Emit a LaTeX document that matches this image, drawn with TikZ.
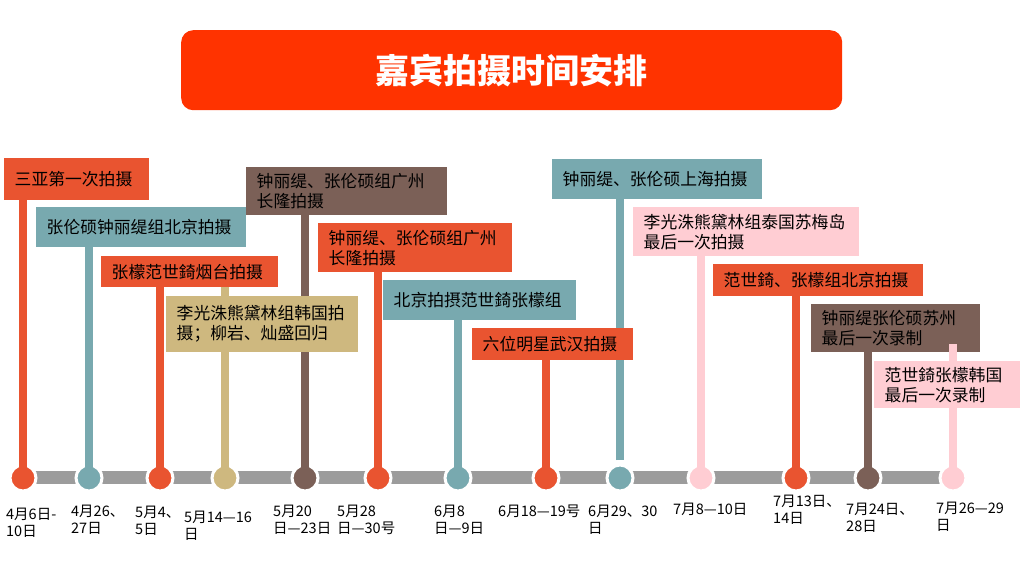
\documentclass[tikz,border=0pt]{standalone}
\usepackage{fontspec}
\setmainfont{Noto Sans CJK SC}
\definecolor{cred}{HTML}{E95430}
\definecolor{cteal}{HTML}{78A9AF}
\definecolor{cbrown}{HTML}{7B6057}
\definecolor{ctan}{HTML}{CEB87F}
\definecolor{cpink}{HTML}{FFCDD3}
\definecolor{ctitle}{HTML}{FF3300}
\definecolor{cbar}{HTML}{9C9C9C}
\begin{document}
\begin{tikzpicture}[x=1pt,y=-1pt,
  box/.style={anchor=north west, inner xsep=10.5pt, inner ysep=0pt, align=left, text=black,
              font=\fontsize{16.8}{20}\selectfont},
  dot/.style={circle, draw=white, line width=3pt, minimum size=26pt, inner sep=0pt},
  stem/.style={line width=8pt},
  bar/.style={line width=13pt, draw=cbar},
  date/.style={anchor=north west, inner sep=0pt, align=left, text=black,
               font=\fontsize{14.5}{16.5}\selectfont}
]
\useasboundingbox (0,0) rectangle (1024,576);
\fill[white] (0,0) rectangle (1024,576);

% title
\node[anchor=north west, fill=ctitle, rounded corners=12pt, minimum width=661pt, minimum height=80pt,
      inner sep=0pt, text=white, font=\bfseries\fontsize{34}{38}\selectfont] (title) at (181,30) {嘉宾拍摄时间安排};

% timeline bar
\coordinate (barL) at (23,477);
\coordinate (barR) at (953,477);
\draw[bar] (barL) -- (barR);

% circles
\node[dot, fill=cred]   (c1)  at (23,478)  {};
\node[dot, fill=cteal]  (c2)  at (89,478)  {};
\node[dot, fill=cred]   (c3)  at (160,478) {};
\node[dot, fill=ctan]   (c4)  at (225,478) {};
\node[dot, fill=cbrown] (c5)  at (305,478) {};
\node[dot, fill=cred]   (c6)  at (378,478) {};
\node[dot, fill=cteal]  (c7)  at (458,478) {};
\node[dot, fill=cred]   (c8)  at (546,478) {};
\node[dot, fill=cteal]  (c9)  at (620,478) {};
\node[dot, fill=cpink]  (c10) at (701,478) {};
\node[dot, fill=cred]   (c11) at (796,478) {};
\node[dot, fill=cbrown] (c12) at (868,478) {};
\node[dot, fill=cpink]  (c13) at (953,478) {};

% stem tops
\coordinate (t1)  at (23,179);
\coordinate (t2)  at (89,227);
\coordinate (t3)  at (160,272);
\coordinate (t4)  at (225,287);
\coordinate (t5)  at (305,191);
\coordinate (t6)  at (378,248);
\coordinate (t7)  at (458,300);
\coordinate (t8)  at (546,344);
\coordinate (t9)  at (620,179);
\coordinate (t10) at (701,231);
\coordinate (t11) at (796,280);
\coordinate (t12) at (868,328);
\coordinate (t13) at (953,344);

% stems
\draw[stem, cred]   (c1.center)  -- (t1);
\draw[stem, cteal]  (c2.center)  -- (t2);
\draw[stem, cred]   (c3.center)  -- (t3);
\draw[stem, ctan]   (c4.center)  -- (t4);
\draw[stem, cbrown] (c5.center)  -- (t5);
\draw[stem, cred]   (c6.center)  -- (t6);
\draw[stem, cteal]  (c7.center)  -- (t7);
\draw[stem, cred]   (c8.center)  -- (t8);
\draw[stem, cteal, shorten <=18pt] (c9.center) -- (t9);
\draw[stem, cpink]  (c10.center) -- (t10);
\draw[stem, cred]   (c11.center) -- (t11);
\draw[stem, cbrown] (c12.center) -- (t12);

% boxes
\node[box, fill=cred,   text width=124pt, minimum height=42pt] (b1)  at (4,158)   {三亚第一次拍摄};
\node[box, fill=cteal,  text width=189pt, minimum height=40pt] (b2)  at (36,207)  {张伦硕钟丽缇组北京拍摄};
\node[box, fill=cred,   text width=156pt, minimum height=31pt] (b3)  at (101,256) {张檬范世錡烟台拍摄};
\node[box, fill=ctan,   text width=171pt, minimum height=56pt] (b4)  at (166,296) {李光洙熊黛林组韩国拍\\摄；柳岩、灿盛回归};
\node[box, fill=cbrown, text width=180pt, minimum height=48pt] (b5)  at (246,167) {钟丽缇、张伦硕组广州\\长隆拍摄};
\node[box, fill=cred,   text width=173pt, minimum height=49pt] (b6)  at (318,223) {钟丽缇、张伦硕组广州\\长隆拍摄};
\node[box, fill=cteal,  text width=172pt, minimum height=40pt] (b7)  at (383,280) {北京拍摂范世錡张檬组};
\node[box, fill=cred,   text width=140pt, minimum height=32pt] (b8)  at (472,328) {六位明星武汉拍摄};
\node[box, fill=cteal,  text width=189pt, minimum height=40pt] (b9)  at (552,159) {钟丽缇、张伦硕上海拍摄};
\node[box, fill=cpink,  text width=205pt, minimum height=49pt] (b10) at (633,207) {李光洙熊黛林组泰国苏梅岛\\最后一次拍摄};
\node[box, fill=cred,   text width=189pt, minimum height=32pt] (b11) at (713,264) {范世錡、张檬组北京拍摄};
\node[box, fill=cbrown, text width=148pt, minimum height=48pt] (b12) at (811,304) {钟丽缇张伦硕苏州\\最后一次录制};
\draw[stem, cpink]  (c13.center) -- (t13);
\node[box, fill=cpink,  text width=125pt, minimum height=47pt] (b13) at (874,361) {范世錡张檬韩国\\最后一次录制};

% dates
\node[date] (d1)  at (6,508)   {4月6日-\\10日};
\node[date] (d2)  at (71,505)  {4月26、\\27日};
\node[date] (d3)  at (135,506) {5月4、\\5日};
\node[date] (d4)  at (184,511) {5月14—16\\日};
\node[date] (d5)  at (273,505) {5月20\\日—23日};
\node[date] (d6)  at (337,505) {5月28\\日—30号};
\node[date] (d7)  at (434,505) {6月8\\日—9日};
\node[date] (d8)  at (498,505) {6月18—19号};
\node[date] (d9)  at (588,505) {6月29、30\\日};
\node[date] (d10) at (673,503) {7月8—10日};
\node[date] (d11) at (773,495) {7月13日、\\14日};
\node[date] (d12) at (846,503) {7月24日、\\28日};
\node[date] (d13) at (936,502) {7月26—29\\日};
\end{tikzpicture}
\end{document}
